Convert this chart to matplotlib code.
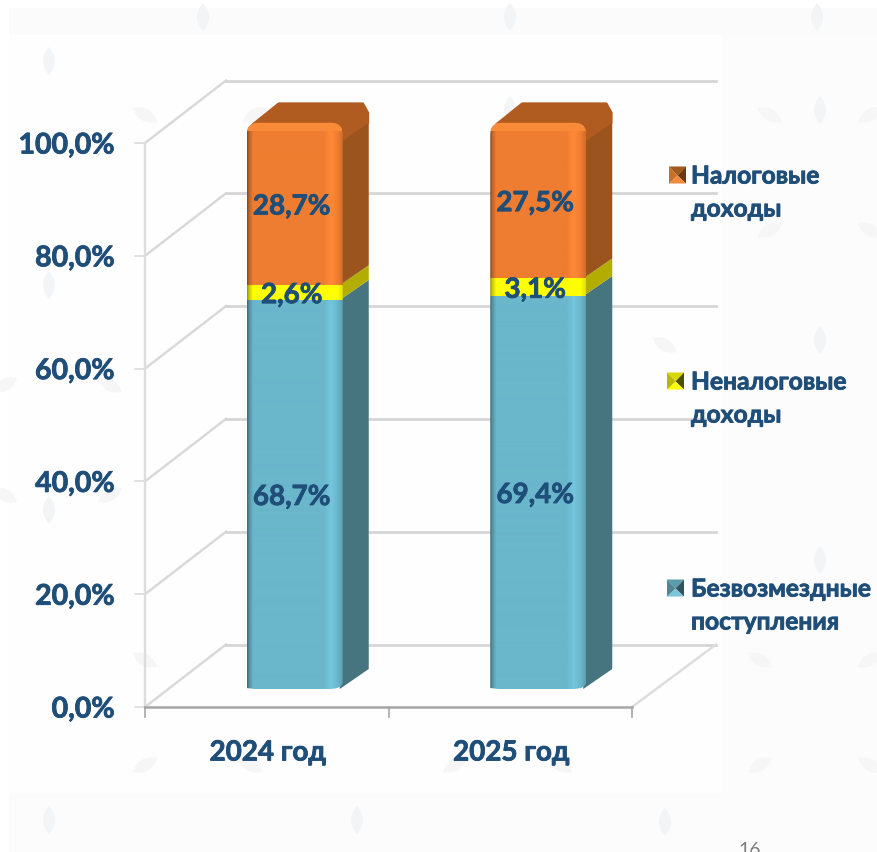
import matplotlib
matplotlib.use("Agg")
import numpy as np
import matplotlib.pyplot as plt
import matplotlib.patheffects as pe
from matplotlib.path import Path
from matplotlib.patches import PathPatch, Polygon, Rectangle
from matplotlib.transforms import Affine2D
from matplotlib.colors import to_rgb

plt.rcParams['font.family'] = ['Lato', 'Open Sans', 'DejaVu Sans']

categories = ['2024 год', '2025 год']
grant = [68.7, 69.4]
nontax = [2.6, 3.1]
tax = [28.7, 27.5]
series = [grant, nontax, tax]
series_labels = ['Безвозмездные\nпоступления', 'Неналоговые\nдоходы', 'Налоговые\nдоходы']
front_colors = ['#6AB6CB', '#FFFF00', '#EE7D31']
side_colors = ['#47757F', '#B3AD00', '#9C541F']
top_color = '#B05C20'
text_color = '#1F4E79'
yticks = [0, 20, 40, 60, 80, 100]

W, H = 877, 852
fig = plt.figure(figsize=(W / 100, H / 100), dpi=100, facecolor='#FFFFFF')
BOLD = [pe.withStroke(linewidth=0.6, foreground=text_color)]

# background layer in pixels
bg = fig.add_axes([0, 0, 1, 1], zorder=0)
bg.set_xlim(0, W); bg.set_ylim(H, 0); bg.axis('off')
bg.add_patch(Rectangle((9, 8), W, H, fc='#FCFCFD', ec='none'))
bg.add_patch(Rectangle((9, 8), W, 27, fc='#FBFBFB', ec='none'))
bg.add_patch(Rectangle((9, 35), 713, 758, fc='#FEFEFE', ec='none'))
upright = [(203, 17), (510, 17), (817, 17), (49, 61), (49, 285), (49, 510), (49, 820), (357, 820), (665, 822),
           (820, 110), (820, 340), (820, 560), (510, 110)]
tilted = [(145, 115, 60), (255, 115, -60), (5, 385, -60), (110, 385, 60), (5, 495, 60), (110, 495, -60),
          (760, 660, 60), (870, 660, -60), (760, 765, -60), (870, 765, 60),
          (145, 765, -60), (250, 765, 60), (455, 765, -60), (560, 765, 60), (145, 660, 60),
          (665, 345, 60), (770, 115, 60), (870, 115, -60), (770, 230, -60), (870, 230, 60)]
def leaf(cx, cy, ang, fc):
    lens = Path([(0, -14), (12, 0), (0, 14), (-12, 0), (0, -14)],
                [Path.MOVETO, Path.CURVE3, Path.CURVE3, Path.CURVE3, Path.CURVE3])
    bg.add_patch(PathPatch(lens, fc=fc, ec='none',
                           transform=Affine2D().rotate_deg(ang).scale(1, -1).translate(cx, cy) + bg.transData))
for lx, ly in upright:
    leaf(lx, ly, 0, '#F3F4F5')
for lx, ly, la in tilted:
    leaf(lx, ly, la, '#F6F6F7')

# pixel geometry of the chart
x0, x1, y0, y1 = 145, 632, 707, 143
ax = fig.add_axes([x0 / W, 1 - y0 / H, (x1 - x0) / W, (y0 - y1) / H], zorder=1)
ax.patch.set_alpha(0)
ax.set_xlim(0, len(categories))
ax.set_ylim(0, 100)
for s in ax.spines.values():
    s.set_visible(False)
PX = (x1 - x0) / len(categories)
PY = (y0 - y1) / 100
k = 1.004                                  # bars stand on a nearer plane, so they draw slightly larger

wall_dx, wall_dy = 81 / PX, 62.5 / PY
bar_dx, bar_dy = 26 / PX, 20 / PY          # depth of one bar
shift_x, shift_y = 28.0 / PX, 18 / PY      # front plane of the bars
bar_w = 96 / PX
grid_c = '#D4D4D4'
for v in yticks:
    ax.plot([0, wall_dx], [v, v + wall_dy], color='#D8D8D8', lw=1.7, clip_on=False, zorder=1)
    ax.plot([wall_dx, 2 + 84 / PX], [v + wall_dy] * 2, color=grid_c, lw=1.9, clip_on=False, zorder=1)
    ax.plot([-10 / PX, 0], [v, v], color='#DCDCDC', lw=1.2, clip_on=False, zorder=1)
ax.plot([0, 0], [0, 100], color='#DDDDDD', lw=1.7, clip_on=False, zorder=1)
ax.plot([2, 2 + 84 / PX], [0, wall_dy], color='#DCDCDC', lw=1.7, clip_on=False, zorder=1)
ax.plot([0, 2], [0, 0], color='#A6A6A6', lw=1.8, clip_on=False, zorder=2)
for t in [0, 1, 2]:
    ax.plot([t, t], [0, -10 / PY], color='#A6A6A6', lw=1.2, clip_on=False, zorder=2)
ax.set_xticks([]); ax.set_yticks([])

for v in yticks:
    ax.text(-30 / PX, v, f'{v:.1f}%'.replace('.', ','), ha='right', va='center_baseline',
            fontsize=20.5, fontweight='bold', color=text_color, clip_on=False, path_effects=BOLD)

# horizontal shading across a bar's front
prof_x = np.array([0, .02, .06, .80, .88, .95, 1])
prof_v = np.array([.62, .80, 1.0, 1.0, 1.09, 1.0, .88])
xs = np.linspace(0, 1, 96)
shade = np.interp(xs, prof_x, prof_v)

def rounded_front(l, r, b, t):
    rx, ry = 12 / PX, 12 / PY
    rbx, rb = 14 / PX, 7 / PY
    verts = [(l, b + 1 / PY), (l + 8 / PX, b), (r - rbx, b), (r, b), (r, b + rb), (r, t - ry), (r, t), (r - rx, t),
             (l + rx, t), (l, t), (l, t - ry), (l, b + 1 / PY)]
    codes = [Path.MOVETO, Path.LINETO, Path.LINETO, Path.CURVE3, Path.CURVE3, Path.LINETO, Path.CURVE3, Path.CURVE3,
             Path.LINETO, Path.CURVE3, Path.CURVE3, Path.CLOSEPOLY]
    return Path(verts, codes)

for i, cat in enumerate(categories):
    c = i + 0.5 + shift_x
    l, r = c - bar_w / 2, c + bar_w / 2
    bottom = shift_y
    total = sum(s[i] for s in series) * k
    outline = PathPatch(rounded_front(l, r, bottom, bottom + total), fc='none', ec='none', zorder=5, clip_on=False)
    ax.add_patch(outline)
    ry = 10 / PY
    ttop = bottom + total
    # top face
    ax.add_patch(Polygon([(l + 6 / PX, ttop - 2 / PY), (l + bar_dx + 6 / PX, ttop + bar_dy - 1 / PY),
                          (r + bar_dx - 6 / PX, ttop + bar_dy - 1 / PY),
                          (r + bar_dx - 1 / PX, ttop + bar_dy - ry), (r + bar_dx - 1 / PX, ttop + bar_dy - 2 * ry),
                          (r, ttop - 2 * ry)],
                         closed=True, fc=top_color, ec=top_color, lw=2, joinstyle='round', zorder=3, clip_on=False))
    base = bottom
    for j, (vals, fc, sc) in enumerate(zip(series, front_colors, side_colors)):
        v = vals[i] * k
        cut = 2 * ry if j == 2 else 0
        ax.add_patch(Polygon([(r - 3 / PX, base), (r + bar_dx, base + bar_dy), (r + bar_dx, base + v + bar_dy - cut),
                              (r - 3 / PX, base + v - cut)],
                             closed=True, fc=sc, ec='none', zorder=4, clip_on=False))
        sh = np.where(shade > 1, 1, shade) if j == 1 else shade
        rgb = np.clip(np.outer(sh, to_rgb(fc)), 0, 1)
        im = ax.imshow(rgb[np.newaxis, :, :], extent=(l, r, base, base + v), aspect='auto',
                       interpolation='bilinear', zorder=5)
        im.set_clip_box(fig.bbox)
        im.set_clip_path(outline)
        ax.text(c - 3 / PX, base + v / 2, f'{vals[i]:.1f}%'.replace('.', ','), ha='center', va='center_baseline',
                fontsize=20, fontweight='bold', color=text_color, zorder=7, clip_on=False, path_effects=BOLD)
        base += v
    # lit strip along the top edge of the front
    strip = Rectangle((l, ttop - 8 / PY), bar_w, 8 / PY, fc='#F98A38', ec='none', zorder=6)
    ax.add_patch(strip)
    strip.set_clip_box(fig.bbox)
    strip.set_clip_path(outline)
    ax.text(i + 0.5 + 1 / PX, -43 / PY, cat, ha='center', va='center_baseline', fontsize=20,
            fontweight='bold', color=text_color, clip_on=False, path_effects=BOLD)
ax.set_xlim(0, len(categories)); ax.set_ylim(0, 100)

# overlay: legend and page number, in pixels
fg = fig.add_axes([0, 0, 1, 1], zorder=2)
fg.set_xlim(0, W); fg.set_ylim(H, 0); fg.axis('off'); fg.patch.set_alpha(0)
legend_y = [588, 381, 175]
legend_x = [667, 667, 669]
marker_shades = [{'t': '#5C9BAC', 'l': '#4F8796', 'r': '#2E5560', 'b': '#7CC4D8'},
                 {'t': '#D8D800', 'l': '#B8B800', 'r': '#4F4F00', 'b': '#FFFF00'},
                 {'t': '#A05A20', 'l': '#C87028', 'r': '#6B3A12', 'b': '#F08A3C'}]
for lab, my, mx, ms in zip(series_labels, legend_y, legend_x, marker_shades):
    s = 17
    cx, cy = mx + s / 2, my + 0.5
    a, b, c_, d = (mx, my - s / 2), (mx + s, my - s / 2), (mx + s, my + s / 2), (mx, my + s / 2)
    fg.add_patch(Polygon([a, b, (cx, cy)], fc=ms['t'], ec='none'))
    fg.add_patch(Polygon([b, c_, (cx, cy)], fc=ms['r'], ec='none'))
    fg.add_patch(Polygon([c_, d, (cx, cy)], fc=ms['b'], ec='none'))
    fg.add_patch(Polygon([d, a, (cx, cy)], fc=ms['l'], ec='none'))
    top, second = lab.split('\n')
    fg.text(691, my - 1, top, ha='left', va='center_baseline', fontsize=17.7, fontweight='bold', color=text_color, path_effects=BOLD)
    fg.text(691, my + 32, second, ha='left', va='center_baseline', fontsize=17.7, fontweight='bold', color=text_color, path_effects=BOLD)
fg.text(750, 850, '16', ha='center', va='center', fontsize=14, color='#7F7F7F', clip_on=True)

fig.savefig('out.png', dpi=100, facecolor=fig.get_facecolor())
